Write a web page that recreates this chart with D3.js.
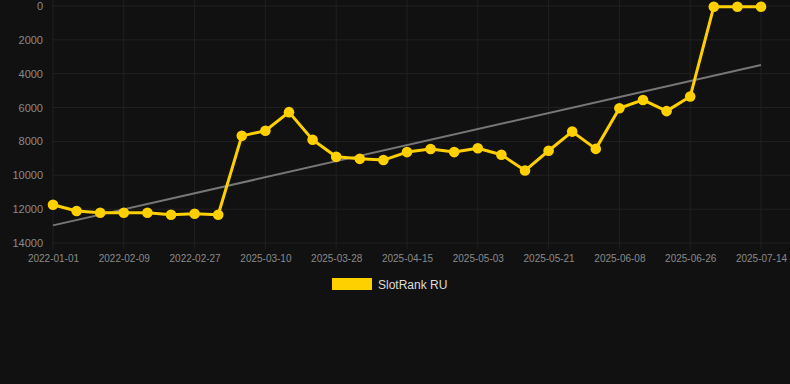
<!DOCTYPE html>
<html><head><meta charset="utf-8">
<script src="https://cdn.jsdelivr.net/npm/d3@7"></script>
<style>html,body{margin:0;padding:0;background:#111111;}svg{display:block;}</style>
</head><body>
<svg id="chart" width="790" height="384"></svg>
<script>
const tickLabels = ["2022-01-01","2022-02-09","2022-02-27","2025-03-10","2025-03-28","2025-04-15","2025-05-03","2025-05-21","2025-06-08","2025-06-26","2025-07-14"];
const rankValues = [11740,12110,12210,12210,12210,12330,12270,12330,7670,7370,6270,7900,8910,9030,9100,8630,8450,8630,8400,8790,9720,8550,7420,8440,6040,5550,6210,5350,40,40,40];
const trendValues = [12960,3480];
const yTicks = [0,2000,4000,6000,8000,10000,12000,14000];
const seriesName = "SlotRank RU";

(function(){
const svg = d3.select("#chart");
const W = 790, H = 384;
svg.append("rect").attr("width",W).attr("height",H).attr("fill","#111111");
const pLeft = 53, pRight = 761, pTop = 6, pBottom = 243;
const idx = d3.range(rankValues.length);
const x = d3.scaleLinear().domain([0, rankValues.length-1]).range([pLeft, pRight]);
const y = d3.scaleLinear().domain([0,14000]).range([pTop,pBottom]);
const gridColor = "#212121";

svg.append("g").selectAll("line").data(yTicks).join("line")
  .attr("x1",pLeft).attr("x2",W).attr("y1",d=>y(d)).attr("y2",d=>y(d))
  .attr("stroke",gridColor).attr("stroke-width",1);
const tickIdx = tickLabels.map((_,i)=>i*3);
svg.append("g").selectAll("line").data(tickIdx).join("line")
  .attr("x1",d=>x(d)).attr("x2",d=>x(d)).attr("y1",0).attr("y2",pBottom+6)
  .attr("stroke",gridColor).attr("stroke-width",1);

const yAxis = d3.axisLeft(y).tickValues(yTicks).tickSize(0).tickPadding(10).tickFormat(d=>String(d));
const gy = svg.append("g").attr("transform",`translate(${pLeft},0)`).call(yAxis);
gy.select(".domain").remove();
gy.selectAll("text").attr("fill","#8a8a8a").style("font-family","Liberation Sans, Arial, sans-serif").style("font-size","11px");

const xAxis = d3.axisBottom(x).tickValues(tickIdx).tickSize(0).tickPadding(12).tickFormat((d,i)=>tickLabels[i]);
const gx = svg.append("g").attr("transform",`translate(0,${pBottom})`).call(xAxis);
gx.select(".domain").remove();
gx.selectAll("text").attr("fill","#8a8a8a").style("font-family","Liberation Sans, Arial, sans-serif").style("font-size","10px");

svg.append("line")
  .attr("x1",x(0)).attr("x2",x(rankValues.length-1))
  .attr("y1",y(trendValues[0])).attr("y2",y(trendValues[1]))
  .attr("stroke","#777777").attr("stroke-width",2);

const color = "#FFD000";
svg.append("path").datum(idx)
  .attr("d", d3.line().x(i=>x(i)).y(i=>y(rankValues[i])))
  .attr("fill","none").attr("stroke",color).attr("stroke-width",3).attr("stroke-linejoin","round");
svg.append("g").selectAll("circle").data(idx).join("circle")
  .attr("cx",i=>x(i)).attr("cy",i=>y(rankValues[i])).attr("r",5.3).attr("fill",color);

svg.append("rect").attr("x",332).attr("y",278).attr("width",40).attr("height",12).attr("fill",color);
svg.append("text").attr("x",378).attr("y",289).text(seriesName)
  .attr("fill","#dddddd").style("font-family","Liberation Sans, Arial, sans-serif").style("font-size","12px");
})();
</script>
</body></html>
